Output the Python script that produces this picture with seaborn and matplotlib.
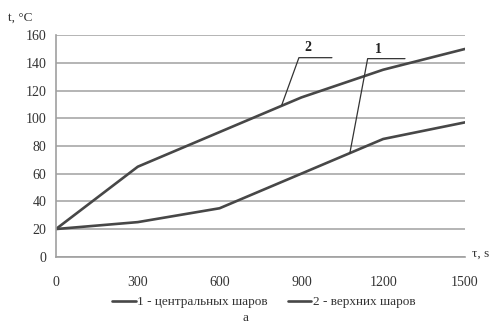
import matplotlib
matplotlib.use("Agg")
import matplotlib.pyplot as plt
import seaborn as sns
import pandas as pd

time_s = [0, 300, 600, 900, 1200, 1500]
central = [20, 25, 35, 60, 85, 97]
upper = [20, 65, 90, 115, 135, 150]
series_names = ["1 - центральных шаров", "2 - верхних шаров"]
x_ticks = [0, 300, 600, 900, 1200, 1500]
y_ticks = [0, 20, 40, 60, 80, 100, 120, 140, 160]

sns.set_style("white")
plt.rcParams['font.family'] = ['Liberation Serif', 'DejaVu Serif']

df = pd.DataFrame({
    "t": time_s * 2,
    "T": central + upper,
    "series": [series_names[0]] * len(time_s) + [series_names[1]] * len(time_s),
})

fig = plt.figure(figsize=(4.91, 3.25), dpi=100)
ax = fig.add_axes([0.114, 0.21, 0.833, 0.682])
line_col = "#474747"
sns.lineplot(data=df, x="t", y="T", hue="series",
             palette={series_names[0]: line_col, series_names[1]: line_col},
             linewidth=1.9, ax=ax, legend=False)

ax.set_xlim(0, 1500)
ax.set_ylim(0, 160)
ax.set_xticks(x_ticks)
ax.set_yticks(y_ticks)
ax.set_xlabel("")
ax.set_ylabel("")
ax.grid(axis="y", color="#a8a8a8", linewidth=1.2)
ax.set_axisbelow(True)
for s in ["top", "right"]:
    ax.spines[s].set_visible(False)
for s in ["left", "bottom"]:
    ax.spines[s].set_color("#a0a0a0")
    ax.spines[s].set_linewidth(1.2)
ax.tick_params(axis="both", which="major", direction="out", length=4,
               width=1.2, color="#a0a0a0", labelsize=10, labelcolor="#333333")
ax.tick_params(axis="x", pad=10)
ax.tick_params(axis="y", pad=3)

fig.text(8 / 491, 1 - 18 / 325, "t, °C", fontsize=9.5, color="#333333", va="center", ha="left")
fig.text(472 / 491, 1 - 254 / 325, "τ, s", fontsize=9.5, color="#333333", va="center", ha="left")

# callouts
ax.plot([828, 891, 1012], [109.5, 143.7, 143.7], color="#333333", linewidth=0.9)
ax.text(924, 146, "2", fontsize=10, fontweight="bold", ha="center", va="bottom", color="#222222")
ax.plot([1078, 1143, 1280], [75, 143, 143], color="#333333", linewidth=0.9)
ax.text(1181, 145, "1", fontsize=10, fontweight="bold", ha="center", va="bottom", color="#222222")

handles = [plt.Line2D([0], [0], color=line_col, linewidth=1.9) for _ in series_names]
fig.legend(handles, series_names, loc="center", bbox_to_anchor=(0.537, 1 - 302 / 325),
           ncol=2, frameon=False, fontsize=9.5, handlelength=1.8, handletextpad=0.1,
           columnspacing=1.5, labelcolor="#333333")
fig.text(0.5, 1 - 318 / 325, "a", fontsize=9.5, ha="center", va="center", color="#333333")

fig.savefig("out.png", dpi=100)
